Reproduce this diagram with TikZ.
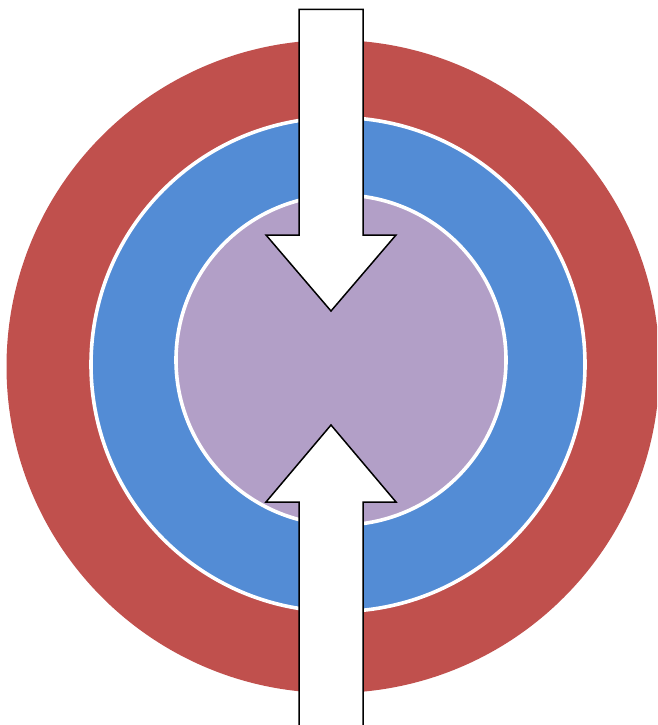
\documentclass[tikz,border=0pt]{standalone}
\definecolor{ringred}{HTML}{C0504D}
\definecolor{ringblue}{HTML}{538CD5}
\definecolor{ringpurple}{HTML}{B29FC7}
\tikzset{
  ring/.style={draw=white, line width=3.6pt},
  bigarrow/.style={draw=black, fill=white, line width=1.5pt, line join=miter}
}
\begin{document}
\begin{tikzpicture}[x=1pt,y=-1pt]
\useasboundingbox (0,0) rectangle (657,725);
\clip (0,0) rectangle (657,725);
\fill[ringred] (333,366.5) circle (326.5);
\filldraw[ring, fill=ringblue] (338,364.5) circle (247);
\filldraw[ring, fill=ringpurple] (341,360) circle (165);
% top arrow
\draw[bigarrow] (299,9.5) -- (363,9.5) -- (363,235) -- (396,235) -- (331,311) -- (266,235) -- (299,235) -- cycle;
% bottom arrow
\draw[bigarrow] (299,740) -- (299,502) -- (266,502) -- (331,425) -- (396,502) -- (363,502) -- (363,740);
\end{tikzpicture}
\end{document}
